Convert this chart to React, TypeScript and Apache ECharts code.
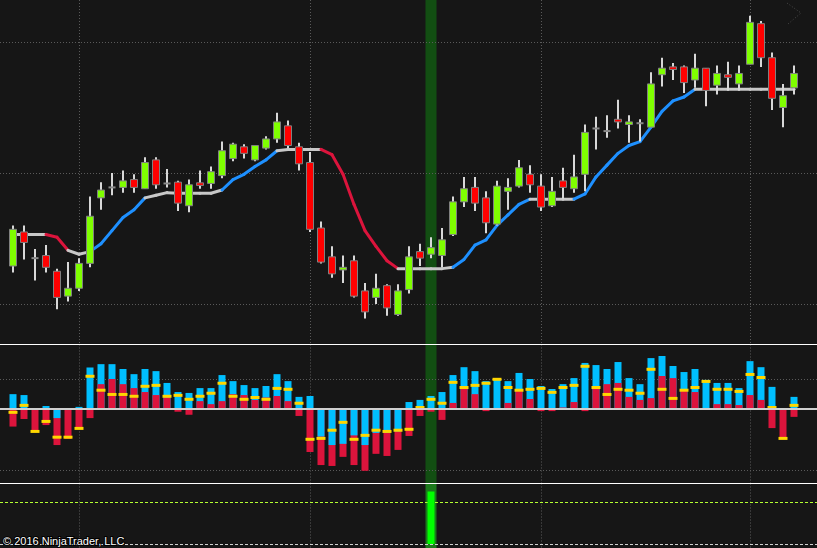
import React, { useEffect, useRef } from "react";
import * as echarts from "echarts";

// ---- Price candles (OHLC) ----
const openP = [
  2042.9, 2045.5, 2043.5, 2043.7, 2042.5, 2040.6, 2041.2, 2043.1, 2048.1, 2048.9,
  2048.9, 2049.5, 2048.8, 2051.0, 2049.2, 2049.3, 2047.5, 2049.25, 2049.2, 2049.8,
  2051.1, 2052.0, 2051.0, 2051.9, 2052.6, 2053.6, 2052.0, 2050.8, 2045.8, 2043.6,
  2042.6, 2043.3, 2041.0, 2040.5, 2041.4, 2039.2, 2041.1, 2044.0, 2043.8, 2043.7,
  2045.3, 2047.8, 2048.9, 2048.1, 2046.1, 2048.6, 2049.0, 2049.9, 2049.0, 2047.5,
  2049.4, 2048.8, 2049.9, 2053.4, 2053.2, 2054.1, 2053.7, 2053.8, 2053.5, 2057.5,
  2058.1, 2058.1, 2057.1, 2058.0, 2056.7, 2057.5, 2056.8, 2058.3, 2061.4, 2058.8,
  2055.0, 2056.5,
];
const highP = [
  2046.0, 2046.0, 2044.2, 2044.5, 2042.7, 2043.2, 2043.5, 2048.2, 2049.3, 2050.0,
  2050.2, 2049.9, 2051.2, 2051.2, 2050.3, 2049.4, 2049.5, 2050.2, 2050.5, 2052.4,
  2052.3, 2052.2, 2052.1, 2052.8, 2054.6, 2054.0, 2052.3, 2051.6, 2046.3, 2044.4,
  2043.7, 2043.7, 2041.6, 2042.3, 2041.5, 2041.5, 2044.4, 2044.6, 2045.1, 2045.8,
  2048.2, 2049.7, 2049.7, 2048.6, 2049.4, 2049.6, 2051.0, 2050.6, 2049.9, 2049.7,
  2050.4, 2051.4, 2053.7, 2054.3, 2054.4, 2055.6, 2054.4, 2054.1, 2057.7, 2058.8,
  2058.4, 2058.2, 2059.1, 2058.0, 2058.2, 2058.5, 2058.2, 2062.0, 2061.6, 2059.2,
  2056.8, 2058.2,
];
const lowP = [
  2042.4, 2043.4, 2041.8, 2042.4, 2039.6, 2040.2, 2041.0, 2042.8, 2047.2, 2048.3,
  2048.5, 2048.5, 2048.8, 2048.8, 2048.9, 2047.1, 2047.0, 2048.8, 2048.8, 2049.6,
  2050.9, 2051.1, 2050.9, 2051.8, 2052.3, 2051.9, 2050.2, 2045.5, 2043.1, 2042.0,
  2041.6, 2040.5, 2038.9, 2040.0, 2039.1, 2039.1, 2040.8, 2042.9, 2043.5, 2042.8,
  2045.2, 2047.4, 2047.1, 2045.4, 2046.0, 2047.2, 2048.9, 2048.5, 2047.1, 2047.4,
  2048.0, 2048.5, 2048.6, 2051.8, 2052.7, 2053.4, 2052.3, 2052.4, 2053.5, 2056.6,
  2057.1, 2056.1, 2056.5, 2055.1, 2056.0, 2056.3, 2056.3, 2058.3, 2058.1, 2054.8,
  2053.5, 2056.0,
];
const closeP = [
  2045.7, 2044.7, 2043.5, 2042.8, 2040.5, 2041.2, 2043.1, 2046.7, 2048.7, 2048.9,
  2049.4, 2048.9, 2050.8, 2049.1, 2049.2, 2047.7, 2049.1, 2049.05, 2050.1, 2051.7,
  2052.2, 2051.5, 2052.1, 2052.6, 2053.9, 2052.1, 2050.7, 2045.7, 2043.2, 2042.3,
  2042.8, 2040.6, 2039.4, 2041.2, 2039.7, 2041.0, 2043.6, 2043.5, 2044.3, 2044.9,
  2047.8, 2048.8, 2047.7, 2046.2, 2049.0, 2048.9, 2050.4, 2049.1, 2047.4, 2048.6,
  2048.9, 2049.7, 2053.1, 2053.4, 2053.2, 2053.9, 2053.9, 2053.8, 2056.8, 2058.0,
  2057.9, 2056.9, 2058.0, 2056.3, 2057.6, 2057.3, 2057.6, 2061.5, 2058.8, 2055.7,
  2055.9, 2057.6,
];

// ---- Trend moving average ----
const maLine = [
  2045.3, 2045.3, 2045.3, 2045.3, 2045.1, 2044.1, 2043.8, 2044.0, 2044.6, 2045.6,
  2046.6, 2047.2, 2048.1, 2048.3, 2048.5, 2048.45, 2048.45, 2048.45, 2048.45, 2048.7,
  2049.5, 2049.9, 2050.5, 2051.0, 2051.7, 2051.8, 2051.8, 2051.8, 2051.8, 2051.4,
  2049.9, 2047.6, 2045.6, 2044.4, 2043.3, 2042.7, 2042.7, 2042.7, 2042.7, 2042.7,
  2042.8, 2043.4, 2044.5, 2044.9, 2046.0, 2046.8, 2047.6, 2048.0, 2048.0, 2048.0,
  2048.0, 2048.0, 2048.4, 2049.7, 2050.6, 2051.5, 2052.1, 2052.4, 2053.5, 2054.7,
  2055.5, 2055.8, 2056.4, 2056.4, 2056.4, 2056.4, 2056.4, 2056.4, 2056.4, 2056.4,
  2056.4, 2056.4,
];
// U = rising, D = falling, F = flat (state of the segment ending at each bar)
const maTrend = "FFFFDDFFUUUUUFFFFFFFUUUUUFFFFDDDDDDDFFFFFUUUUUUUFFFFUUUUUUUUUUUFFFFFFFFF";

// ---- Histogram panel ----
const histCyan = [
  4.9, 4.6, -0.2, 1.0, -3.0, -0.2, 0.7, 13.7, 14.8, 14.8,
  13.2, 11.5, 13.2, 12.5, 8.6, 5.6, 5.3, 6.9, 6.9, 11.2,
  9.2, 7.9, 6.9, 7.6, 11.5, 9.2, 4.0, 4.3, -9.1, -11.9,
  -11.5, -8.7, -11.9, -7.9, -7.9, -7.4, 2.3, 3.0, 4.3, 5.6,
  11.2, 13.8, 12.5, 9.2, 10.2, 9.2, 11.9, 9.9, 7.6, 6.6,
  8.2, 10.2, 15.2, 14.5, 13.2, 15.5, 10.2, 8.2, 16.8, 17.5,
  14.2, 12.2, 13.2, 9.6, 8.6, 8.6, 6.9, 15.8, 13.8, 7.3,
  -0.3, 4.0,
];
const histRed = [
  -5.8, -3.3, -7.2, -5.3, -11.9, -9.9, -6.7, -3.0, 8.2, 9.9,
  8.2, 6.9, 5.6, 4.6, 3.8, -0.9, -1.9, 2.6, 1.6, 2.6,
  4.9, 4.6, 3.0, 3.8, 4.3, 2.6, -2.3, -14.2, -18.5, -18.8,
  -15.8, -18.5, -20.4, -14.8, -15.5, -13.5, -8.9, -2.3, -0.9, -3.6,
  2.0, 6.8, 4.9, -0.7, 0, 2.0, 6.6, 3.3, -0.7, -0.7,
  0.5, 2.3, -0.7, 6.6, 8.2, 8.6, 4.0, 3.0, 3.6, 10.9,
  10.2, 6.3, 5.6, 0, 1.6, 1.6, 1.3, 4.6, 3.0, -6.3,
  -10.0, -2.6,
];
const histYellow = [
  -1.1, 1.2, -7.4, -4.1, -9.3, -9.3, -6.4, 10.8, 6.2, 4.8,
  4.8, 4.2, 7.5, 7.8, 4.2, 4.5, 3.2, 4.2, 5.2, 8.5,
  4.2, 3.2, 3.8, 3.2, 6.8, 6.5, 1.9, -10.0, -9.7, -7.0,
  -4.4, -10.0, -8.7, -7.0, -7.4, -7.0, -6.7, 0.5, 3.2, 1.9,
  8.8, 7.1, 7.8, 8.5, 9.8, 7.1, 6.2, 6.5, 6.8, 5.5,
  7.1, 7.8, 14.1, 7.1, 4.8, 6.5, 6.2, 5.2, 13.1, 6.5,
  3.5, 6.2, 7.1, 9.1, 6.5, 6.5, 5.8, 11.4, 10.4, 0.5,
  -9.7, 1.2,
];

// ---- Signal panel ----
const signalBars = [38];
const signalValues = [1.25];
const signalThreshold = [1];
const signalZero = [0];

// ---- Grid levels ----
const priceGridLevels = [2040, 2050, 2060];
const histGridLevels = [10, -20];
const timeGridBars = [6, 27, 48, 67];
const highlightBar = 38;

const BAR_PX = 11;
const X_MIN = -13 / BAR_PX;
const X_MAX = X_MIN + 817 / BAR_PX;

const C_UP = "#7fff00";
const C_DOWN = "#ff0000";
const GRID_C = "#5a5a5a";

function hLines(gi: number, levels: number[], stroke: string, dash: any, width: number, z: number) {
  return {
    type: "custom",
    xAxisIndex: gi,
    yAxisIndex: gi,
    z,
    silent: true,
    data: levels.map((v) => [0, v]),
    renderItem: (params: any, api: any) => {
      const cs = params.coordSys;
      let y = api.coord([0, api.value(1)])[1];
      if (width % 2 === 1) y = Math.round(y) + 0.5;
      else y = Math.round(y);
      return {
        type: "line",
        shape: { x1: cs.x, y1: y, x2: cs.x + cs.width, y2: y },
        style: { stroke, lineWidth: width, lineDash: dash },
      };
    },
  };
}

function vLines(gi: number) {
  return {
    type: "custom",
    xAxisIndex: gi,
    yAxisIndex: gi,
    z: 1,
    silent: true,
    data: timeGridBars.map((i) => [i, 0]),
    renderItem: (params: any, api: any) => {
      const cs = params.coordSys;
      const x = Math.round(api.coord([api.value(0), 0])[0]) + 0.5;
      return {
        type: "line",
        shape: { x1: x, y1: cs.y, x2: x, y2: cs.y + cs.height },
        style: { stroke: GRID_C, lineWidth: 1, lineDash: [1, 2] },
      };
    },
  };
}

function band(gi: number, color: string) {
  return {
    type: "custom",
    xAxisIndex: gi,
    yAxisIndex: gi,
    z: 0,
    silent: true,
    data: [[highlightBar, 0]],
    renderItem: (params: any, api: any) => {
      const cs = params.coordSys;
      const i = api.value(0);
      const x0 = api.coord([i - 0.5, 0])[0];
      const x1 = api.coord([i + 0.5, 0])[0];
      return {
        type: "rect",
        shape: { x: x0, y: cs.y, width: x1 - x0, height: cs.height },
        style: { fill: color },
      };
    },
  };
}

export default function App() {
  const ref = useRef<HTMLDivElement>(null);
  useEffect(() => {
    document.body.style.margin = "0";
    const chart = echarts.init(ref.current!, undefined, { renderer: "svg" });

    const grids = [
      { left: 0, width: 817, top: 0, height: 344.5 },
      { left: 0, width: 817, top: 344.5, height: 139 },
      { left: 0, width: 817, top: 483.5, height: 64.5 },
    ];
    const xAxes = grids.map((_, gi) => ({
      type: "value",
      gridIndex: gi,
      min: X_MIN,
      max: X_MAX,
      axisLine: { show: gi < 2, onZero: false, lineStyle: { color: "#ffffff", width: 1 } },
      axisTick: { show: false },
      axisLabel: { show: false },
      splitLine: { show: false },
      z: 10,
    }));
    const yAxes = [
      { gridIndex: 0, min: 2036.9084, max: 2063.2061 },
      { gridIndex: 1, min: -24.587, max: 21.287 },
      { gridIndex: 2, min: -0.0952, max: 1.4405 },
    ].map((a) => ({
      type: "value",
      ...a,
      axisLine: { show: false },
      axisTick: { show: false },
      axisLabel: { show: false },
      splitLine: { show: false },
    }));

    const candleData = openP.map((o, i) => [i, o, highP[i], lowP[i], closeP[i]]);
    const maData = maLine.map((v, i) => [i, v]);
    const histData = histCyan.map((c, i) => [i, c, histRed[i], histYellow[i]]);
    const signalData = signalBars.map((b, k) => [b, signalValues[k]]);

    const trendColor: Record<string, string> = { U: "#1e90ff", D: "#dc143c", F: "#c8c8c8" };

    const option: any = {
      animation: false,
      backgroundColor: "#161616",
      grid: grids,
      xAxis: xAxes,
      yAxis: yAxes,
      graphic: [
        {
          type: "polyline",
          shape: { points: [[787, 3], [801, 13], [788, 24]] },
          style: { stroke: "#4a4a4a", lineWidth: 1, lineDash: [1, 2], fill: null },
          z: 50,
        },
        {
          type: "text",
          left: 2,
          top: 534,
          z: 100,
          style: {
            text: "© 2016 NinjaTrader, LLC",
            fill: "#ffffff",
            font: '11px "Liberation Sans", Arial, sans-serif',
            stroke: "#000000",
            lineWidth: 2,
          },
        },
      ],
      series: [
        band(0, "#124e12"),
        band(1, "#124e12"),
        band(2, "#1b7a1b"),
        hLines(0, priceGridLevels, GRID_C, [1, 2], 1, 1),
        hLines(1, histGridLevels, GRID_C, [1, 2], 1, 1),
        vLines(0),
        vLines(1),
        vLines(2),
        // moving average
        {
          type: "custom",
          xAxisIndex: 0,
          yAxisIndex: 0,
          z: 2,
          data: maData,
          renderItem: (params: any, api: any) => {
            const i = params.dataIndex;
            if (i === 0) return { type: "group", children: [] };
            const p0 = api.coord([i - 1, maLine[i - 1]]);
            const p1 = api.coord([i, api.value(1)]);
            return {
              type: "line",
              shape: { x1: p0[0], y1: p0[1], x2: p1[0], y2: p1[1] },
              style: { stroke: trendColor[maTrend[i]], lineWidth: 3, lineCap: "round" },
            };
          },
        },
        // candles
        {
          type: "custom",
          xAxisIndex: 0,
          yAxisIndex: 0,
          z: 3,
          data: candleData,
          renderItem: (params: any, api: any) => {
            const i = api.value(0);
            const o = api.value(1);
            const h = api.value(2);
            const l = api.value(3);
            const c = api.value(4);
            const pO = api.coord([i, o]);
            const pC = api.coord([i, c]);
            const pH = api.coord([i, h]);
            const pL = api.coord([i, l]);
            const x = Math.round(pO[0]);
            const top = Math.min(pO[1], pC[1]);
            const bot = Math.max(pO[1], pC[1]);
            const children: any[] = [
              {
                type: "line",
                shape: { x1: x, y1: pH[1], x2: x, y2: pL[1] },
                style: { stroke: "#d8d8d8", lineWidth: 2 },
              },
            ];
            if (bot - top < 1.5) {
              children.push({
                type: "rect",
                shape: { x: x - 3.5, y: (top + bot) / 2 - 1, width: 7, height: 2 },
                style: { fill: "#8a8a8a" },
              });
            } else {
              children.push({
                type: "rect",
                shape: { x: x - 3.5, y: top, width: 7, height: bot - top },
                style: { fill: c > o ? C_UP : C_DOWN, stroke: "#808080", lineWidth: 1 },
              });
            }
            return { type: "group", children };
          },
        },
        // histogram
        {
          type: "custom",
          xAxisIndex: 1,
          yAxisIndex: 1,
          z: 3,
          data: histData,
          renderItem: (params: any, api: any) => {
            const i = api.value(0);
            const cv = api.value(1);
            const rv = api.value(2);
            const yv = api.value(3);
            const y0 = api.coord([i, 0])[1];
            const x = Math.round(api.coord([i, 0])[0]);
            const bar = (v: number, fill: string) => {
              const yy = api.coord([i, v])[1];
              return {
                type: "rect",
                shape: { x: x - 3.5, y: Math.min(y0, yy), width: 7, height: Math.abs(yy - y0) },
                style: { fill },
              };
            };
            const cyanRect = bar(cv, "#00bfff");
            const redRect = bar(rv, "#dc143c");
            const children =
              Math.abs(cv) >= Math.abs(rv) ? [cyanRect, redRect] : [redRect, cyanRect];
            const yyy = api.coord([i, yv])[1];
            children.push({
              type: "rect",
              shape: { x: x - 4.5, y: yyy - 1.5, width: 9, height: 3 },
              style: { fill: "#ffd700" },
            });
            return { type: "group", children };
          },
        },
        hLines(1, [0], "#d0d0d0", "solid", 2, 5),
        // signal panel
        hLines(2, signalThreshold, "#b4ff32", [3, 2], 1, 1),
        hLines(2, signalZero, "#d0d0d0", [3, 2], 1, 1),
        {
          type: "custom",
          xAxisIndex: 2,
          yAxisIndex: 2,
          z: 3,
          data: signalData,
          renderItem: (params: any, api: any) => {
            const i = api.value(0);
            const v = api.value(1);
            const p = api.coord([i, v]);
            const y0 = api.coord([i, 0])[1];
            const x = Math.round(p[0]);
            return {
              type: "rect",
              shape: { x: x - 3.5, y: p[1], width: 7, height: y0 - p[1] },
              style: { fill: "#00ff00" },
            };
          },
        },
      ],
    };
    chart.setOption(option);
    return () => chart.dispose();
  }, []);
  return <div ref={ref} style={{ width: 817, height: 548 }} />;
}
